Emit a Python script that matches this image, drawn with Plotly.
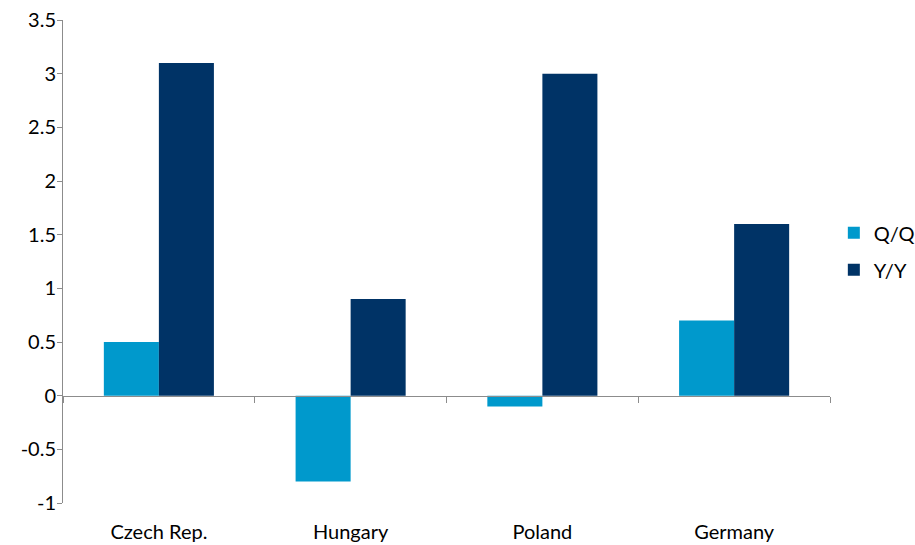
import plotly.graph_objects as go

categories = ["Czech Rep.", "Hungary", "Poland", "Germany"]
qq_values = [0.5, -0.8, -0.1, 0.7]
yy_values = [3.1, 0.9, 3.0, 1.6]
y_tick_vals = [-1, -0.5, 0, 0.5, 1, 1.5, 2, 2.5, 3, 3.5]
y_tick_labels = ["-1", "-0.5", "0", "0.5", "1", "1.5", "2", "2.5", "3", "3.5"]

QQ_COLOR = "#0099CC"
YY_COLOR = "#003366"
AXIS_COLOR = "#8C8C8C"
FONT = "Lato"

fig = go.Figure()
fig.add_trace(go.Bar(name="Q/Q", x=categories, y=qq_values,
                     marker=dict(color=QQ_COLOR, line=dict(width=0)),
                     legendgroup="qq"))
fig.add_trace(go.Bar(name="Y/Y", x=categories, y=yy_values,
                     marker=dict(color=YY_COLOR, line=dict(width=0)),
                     legendgroup="yy"))
# invisible helper trace so the zero-line axis has categories
fig.add_trace(go.Scatter(x=categories, y=qq_values, xaxis="x2", mode="markers",
                         marker=dict(opacity=0), showlegend=False, hoverinfo="skip"))

fig.update_layout(
    width=915, height=545,
    margin=dict(l=63, r=85, t=20, b=42, autoexpand=False),
    paper_bgcolor="white", plot_bgcolor="white",
    font=dict(family=FONT, size=20, color="#000000"),
    barmode="group", bargap=0.426, bargroupgap=0,
    showlegend=True,
    legend=dict(x=1.005, xanchor="left", y=0.521, yanchor="middle",
                font=dict(family=FONT, size=20), tracegroupgap=8,
                bgcolor="rgba(0,0,0,0)"),
    xaxis=dict(type="category", categoryorder="array", categoryarray=categories,
               range=[-0.5, 3.5], showline=False, ticks="", showgrid=False,
               zeroline=False, ticklabelstandoff=15, automargin=False),
    xaxis2=dict(type="category", categoryorder="array", categoryarray=categories,
                range=[-0.5, 3.5], overlaying="x", anchor="free",
                position=1 / 4.5, showline=True, linecolor=AXIS_COLOR, linewidth=1,
                ticks="outside", tickson="boundaries", ticklen=6, tickcolor=AXIS_COLOR,
                showticklabels=False, showgrid=False, zeroline=False, automargin=False),
    yaxis=dict(range=[-1, 3.5], tickvals=y_tick_vals, ticktext=y_tick_labels,
               showline=True, linecolor=AXIS_COLOR, linewidth=1,
               ticks="outside", ticklen=5, tickcolor=AXIS_COLOR,
               showgrid=False, zeroline=False, ticklabelstandoff=-3, automargin=False),
)

fig.write_html("out.html", config={"displayModeBar": False},
               post_script="document.body.style.margin='0px';")
